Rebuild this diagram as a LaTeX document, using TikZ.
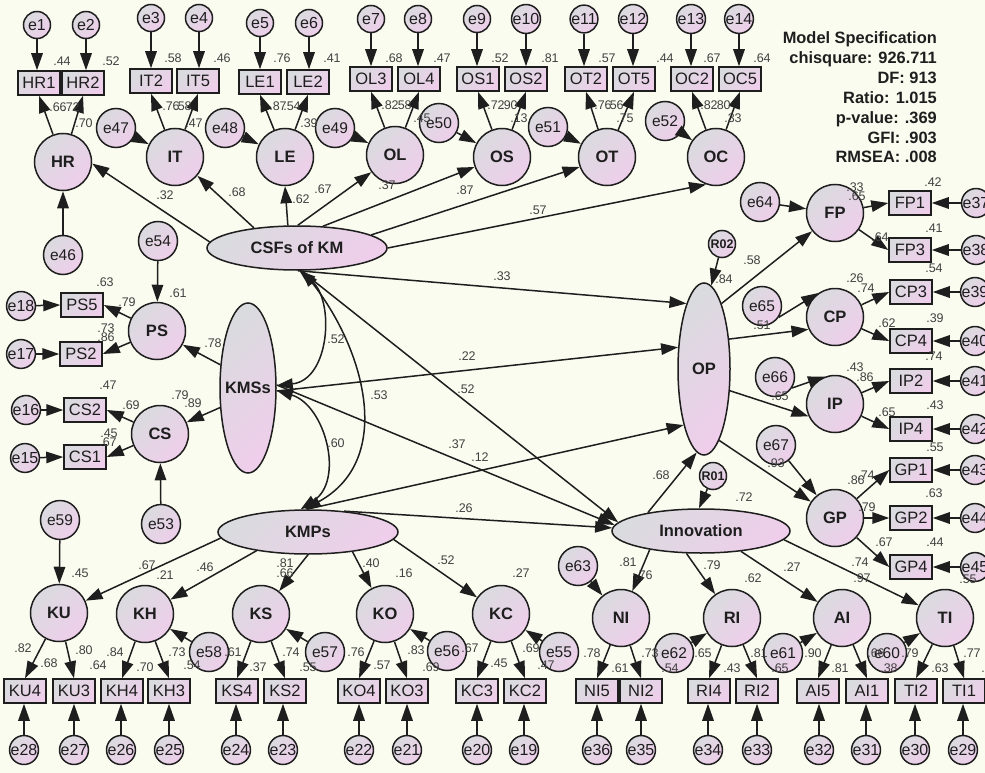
\documentclass[tikz,border=0pt]{standalone}
\usepackage{fontspec}
\setmainfont{Liberation Sans}
\usetikzlibrary{arrows.meta,shapes.geometric}
\definecolor{bg}{RGB}{251,252,240}
\definecolor{shA}{RGB}{218,219,223}
\definecolor{shB}{RGB}{238,206,234}
\definecolor{ln}{RGB}{30,30,30}
\definecolor{numc}{RGB}{65,65,65}
\tikzset{
 shd/.style={top color=shA, bottom color=shB, shading angle=45},
 base/.style={draw=ln, line width=1.5pt, shd, inner sep=0pt, text=ln},
 lat/.style={base, circle, minimum size=57pt, font=\fontsize{16.5}{18}\selectfont\bfseries},
 err/.style={base, circle, minimum size=27pt, font=\fontsize{16}{17}\selectfont},
 res/.style={base, circle, minimum size=39pt, font=\fontsize{15.5}{17}\selectfont},
 rr/.style={base, circle, minimum size=27pt, font=\fontsize{12.5}{14}\selectfont\bfseries},
 obs/.style={base, rectangle, minimum width=42pt, minimum height=24pt, font=\fontsize{16.5}{18}\selectfont},
 ell/.style={base, ellipse},
 ltxt/.style={inner sep=0pt, text=ln, font=\fontsize{16.5}{18}\selectfont\bfseries},
 num/.style={inner sep=0pt, text=numc, font=\fontsize{12.5}{14}\selectfont},
 spec/.style={inner sep=0pt, anchor=base east, text=ln, font=\fontsize{16.4}{20}\selectfont\bfseries},
 arr/.style={draw=ln, line width=1.5pt, -{Triangle[length=17pt,width=11.5pt]}},
 darr/.style={draw=ln, line width=1.5pt, {Triangle[length=16pt,width=11pt]}-{Triangle[length=16pt,width=11pt]}},
}
\begin{document}
\begin{tikzpicture}[x=1pt,y=-1pt]
\fill[bg] (0,0) rectangle (985,773);
\useasboundingbox (0,0) rectangle (985,773);

% ---------- ellipses ----------
\node[ell, minimum width=180pt, minimum height=44pt] (CSFs) at (297,248) {};
\node[ltxt] (CSFst) at (CSFs) {CSFs of KM};
\node[ell, minimum width=56pt, minimum height=170pt] (KMSs) at (248,388) {};
\node[ltxt] (KMSst) at (KMSs) {KMSs};
\node[ell, minimum width=180pt, minimum height=44pt] (KMPs) at (308,532) {};
\node[ltxt] (KMPst) at (KMPs) {KMPs};
\node[ell, minimum width=178pt, minimum height=44pt] (Innovation) at (701,531) {};
\node[ltxt] (Innovationt) at (Innovation) {Innovation};
\node[ell, minimum width=52pt, minimum height=172pt] (OP) at (704,369) {};
\node[ltxt] (OPt) at (OP) {OP};

% ---------- latent circles ----------
\foreach \n/\x/\y in {HR/63/162,IT/175/157,LE/285/157,OL/395/155,OS/502/157,OT/607/157,OC/716/157,
  PS/157/331,CS/160/434,FP/835/213,CP/835/317,IP/835/404,GP/835/518,
  KU/59/613,KH/145/614,KS/261/614,KO/385/614,KC/501/614,NI/621/618,RI/732/618,AI/842/618,TI/945/618}
  \node[lat] (\n) at (\x,\y) {\n};

% ---------- residual circles ----------
\foreach \n/\x/\y in {47/116/128,48/225/128,49/335/128,50/439/123,51/548/127,52/665/121,46/63/255,54/158/241,53/161/524,
  64/760/202,65/762/306,66/775/377,67/776/445,
  59/60/520,58/209/652,57/325/652,56/447/651,55/559/652,63/578/566,62/674/653,61/783/653,60/887/653}
  \node[res] (e\n) at (\x,\y) {e\n};
\node[rr] (R01) at (713,476) {R01};
\node[rr] (R02) at (722,244) {R02};

% ---------- observed boxes ----------
\foreach \n/\x/\y in {HR1/39/83,HR2/83/83,IT2/151/81,IT5/198/81,LE1/260/82,LE2/308/82,OL3/371/79,OL4/419/79,
  OS1/478/79,OS2/526/79,OT2/586/79,OT5/634/79,OC2/692/79,OC5/740/79,
  PS5/82/305,PS2/81/354,CS2/85/410,CS1/85/457,
  FP1/910/203,FP3/910/250,CP3/911/292,CP4/911/341,IP2/911/381,IP4/911/429,GP1/911/470,GP2/911/518,GP4/911/567,
  KU4/25/691,KU3/74/691,KH4/122/691,KH3/169/691,KS4/237/691,KS2/285/691,KO4/359/691,KO3/407/691,
  KC3/477/691,KC2/525/691,NI5/597/691,NI2/641/691,RI4/709/691,RI2/757/691,AI5/818/691,AI1/867/691,TI2/916/691,TI1/964/691}
  \node[obs] (\n) at (\x,\y) {\n};

% ---------- indicator errors ----------
\foreach \n/\x/\y in {1/37/25,2/86/25,3/151/18,4/199/18,5/260/23,6/309/23,7/371/19,8/418/19,9/477/19,10/526/19,
  11/584/19,12/633/19,13/691/19,14/739/19,
  18/21/306,17/21/354,16/26/410,15/25/458,
  37/976/203,38/976/250,39/975/292,40/975/341,41/975/381,42/975/429,43/975/470,44/975/518,45/975/567,
  28/24/750,27/74/750,26/121/750,25/169/750,24/236/750,23/283/750,22/359/750,21/407/750,20/477/750,19/524/750,
  36/597/750,35/641/750,34/708/750,33/757/750,32/819/750,31/866/750,30/915/750,29/963/750}
  \node[err] (e\n) at (\x,\y) {e\n};

% ---------- error -> indicator arrows ----------
\foreach \e/\b in {1/HR1,2/HR2,3/IT2,4/IT5,5/LE1,6/LE2,7/OL3,8/OL4,9/OS1,10/OS2,11/OT2,12/OT5,13/OC2,14/OC5}
  \draw[arr] (e\e) -- (e\e |- \b.north);
\foreach \e/\b in {28/KU4,27/KU3,26/KH4,25/KH3,24/KS4,23/KS2,22/KO4,21/KO3,20/KC3,19/KC2,36/NI5,35/NI2,34/RI4,33/RI2,32/AI5,31/AI1,30/TI2,29/TI1}
  \draw[arr] (e\e) -- (e\e |- \b.south);
\foreach \e/\b in {18/PS5,17/PS2,16/CS2,15/CS1}
  \draw[arr] (e\e) -- (\b.west);
\foreach \e/\b in {37/FP1,38/FP3,39/CP3,40/CP4,41/IP2,42/IP4,43/GP1,44/GP2,45/GP4}
  \draw[arr] (e\e) -- (\b.east);

% ---------- loadings ----------
\foreach \l/\b in {HR/HR1,HR/HR2,IT/IT2,IT/IT5,LE/LE1,LE/LE2,OL/OL3,OL/OL4,OS/OS1,OS/OS2,OT/OT2,OT/OT5,OC/OC2,OC/OC5}
  \draw[arr] (\l) -- (\b.south);
\foreach \l/\b in {KU/KU4,KU/KU3,KH/KH4,KH/KH3,KS/KS4,KS/KS2,KO/KO4,KO/KO3,KC/KC3,KC/KC2,NI/NI5,NI/NI2,RI/RI4,RI/RI2,AI/AI5,AI/AI1,TI/TI2,TI/TI1}
  \draw[arr] (\l) -- (\b.north);
\foreach \l/\b in {PS/PS5,PS/PS2,CS/CS2,CS/CS1}
  \draw[arr] (\l) -- (\b.east);
\foreach \l/\b in {FP/FP1,FP/FP3,CP/CP3,CP/CP4,IP/IP2,IP/IP4,GP/GP1,GP/GP2,GP/GP4}
  \draw[arr] (\l) -- (\b.west);

% ---------- residual arrows ----------
\foreach \r/\l in {47/IT,48/LE,49/OL,50/OS,51/OT,52/OC,46/HR,54/PS,53/CS,59/KU,58/KH,57/KS,56/KO,55/KC,63/NI,62/RI,61/AI,60/TI,64/FP,67/GP}
  \draw[arr] (e\r) -- (\l);
\draw[arr] (e65.-34) -- (CP.125);
\draw[arr] (e66.-33) -- (IP.110);
\draw[arr] (R01) -- (Innovation.95);
\draw[arr] (R02) -- (OP.85);

% ---------- structural paths ----------
\draw[arr] (CSFs.176) -- (HR.-3);
\draw[arr] (CSFs.155) -- (IT.-40);
\draw[arr] (CSFs.112) -- (LE.south);
\draw[arr] (CSFs.88) -- (OL.216);
\draw[arr] (CSFs.40) -- (OS.200);
\draw[arr] (CSFs.10) -- (OT.200);
\draw[arr] (CSFs.0) -- (OC.250);
\draw[arr] (CSFs.-88) -- (OP.105);
\draw[arr] (CSFs.-80) -- (Innovation.174);
\draw[arr] (KMSs.140) -- (PS);
\draw[arr] (KMSs.215) -- (CS);
\draw[arr] (KMSs.-6) -- (OP.140);
\draw[arr] (KMSs.6) -- (Innovation.176);
\draw[arr] (KMPs.93) -- (OP.250);
\draw[arr] (KMPs.30) -- (Innovation.178);
\draw[arr] (KMPs.184) -- (KU);
\draw[arr] (KMPs.200) -- (KH);
\draw[arr] (KMPs.270) -- (KS);
\draw[arr] (KMPs.336) -- (KO);
\draw[arr] (KMPs.355) -- (KC);
\draw[arr] (Innovation.161) -- (OP.265);
\draw[arr] (Innovation.200) -- (NI);
\draw[arr] (Innovation.237) -- (RI);
\draw[arr] (Innovation.333) -- (AI);
\draw[arr] (Innovation.354) -- (TI);
\draw[arr] (OP.75) -- (FP);
\draw[arr] (OP.50) -- (CP.205);
\draw[arr] (OP.-40) -- (IP.205);
\draw[arr] (OP.-78) -- (GP.146);

% ---------- covariances ----------
\draw[darr] (CSFs.-84) .. controls (335,300) and (330,380) .. (KMSs.5);
\draw[darr] (CSFs.-76) .. controls (365,350) and (395,460) .. (KMPs.98);
\draw[darr] (KMSs.-5) .. controls (325,405) and (345,480) .. (KMPs.108);

% ---------- numbers ----------
\foreach \x/\y/\t [count=\i] in {
 62/61/.44,111/61/.52,173/58/.58,222/58/.46,282/58/.76,332/58/.41,394/58/.68,442/58/.47,500/58/.52,550/58/.81,607/58/.57,665/58/.44,712/58/.67,762/58/.64,
 58/107/.66,71/107/.72,84/123/.70,171/106/.76,183/106/.58,194/123/.47,278/106/.87,292/106/.54,309/123/.39,390/105/.82,403/105/.58,422/118/.45,496/105/.72,509/105/.90,519/118/.13,603/105/.76,615/105/.56,625/118/.75,709/105/.82,722/105/.80,733/118/.33,
 165/195/.32,237/192/.68,301/199/.62,323/189/.67,387/185/.37,465/190/.87,538/210/.57,
 105/282/.63,127/302/.79,178/293/.61,106/328/.73,106/337/.86,213/343/.78,108/385/.47,131/405/.69,180/395/.79,193/403/.89,109/433/.45,108/442/.67,
 336/339/.52,379/395/.53,336/443/.60,502/276/.33,467/356/.22,466/389/.52,457/444/.37,480/457/.12,464/508/.26,
 855/187/.33,857/196/.65,933/182/.42,880/237/.64,934/228/.41,752/260/.58,724/279/.84,934/268/.54,855/278/.26,866/288/.74,762/325/.51,935/318/.39,887/323/.62,934/356/.74,
 855/367/.43,865/377/.86,780/396/.65,935/405/.43,887/412/.65,935/447/.55,776/463/.93,866/475/.74,856/480/.86,867/507/.79,934/493/.63,884/542/.67,935/542/.44,860/562/.74,862/578/.97,968/579/.55,744/497/.72,661/475/.68,
 147/565/.67,165/575/.21,205/567/.46,285/563/.81,285/573/.66,80/573/.45,371/563/.40,404/573/.16,446/560/.52,521/573/.27,628/562/.81,644/575/.76,712/565/.79,753/578/.62,792/567/.27,
 23/648/.82,49/663/.68,84/650/.80,98/665/.64,115/652/.84,145/667/.70,177/652/.73,192/665/.54,233/652/.61,258/667/.37,291/652/.74,308/667/.55,
 356/652/.76,382/665/.57,416/650/.83,431/667/.69,470/648/.67,499/663/.45,531/648/.69,546/665/.47,592/653/.78,620/668/.61,650/653/.73,670/668/.54,
 703/653/.65,732/668/.43,759/653/.81,780/668/.65,813/653/.90,840/668/.81,876/653/.66,889/668/.38,910/653/.79,940/668/.63,972/653/.77,990/668/.55}
 \node[num] (n\i) at (\x,\y) {\t};

% ---------- model specification ----------
\node[spec] (ms1) at (937,44) {Model Specification};
\node[spec] (ms2) at (937,64) {chisquare: 926.711};
\node[spec] (ms3) at (937,84) {DF: 913};
\node[spec] (ms4) at (937,104) {Ratio: 1.015};
\node[spec] (ms5) at (937,123.5) {p-value: .369};
\node[spec] (ms6) at (937,143) {GFI: .903};
\node[spec] (ms7) at (937,163) {RMSEA: .008};
\end{tikzpicture}
\end{document}
